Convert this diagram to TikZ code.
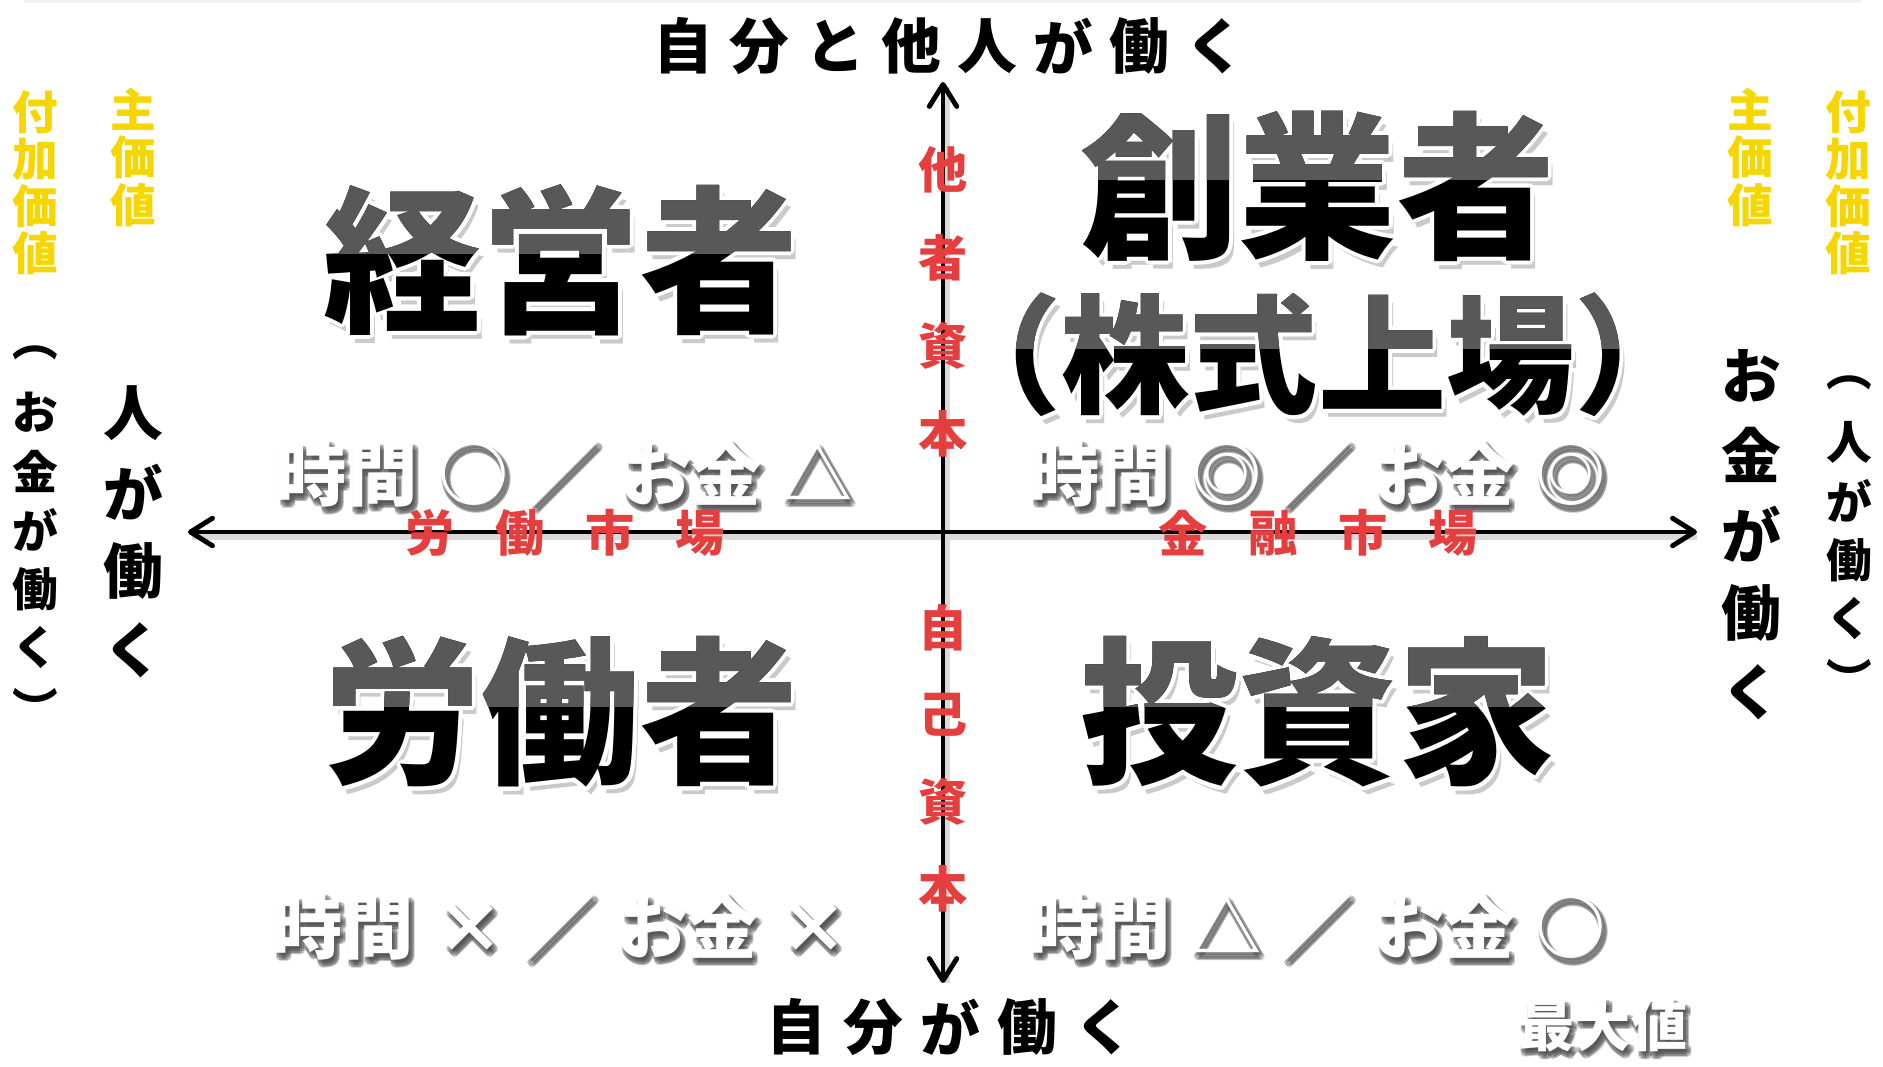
\documentclass[tikz,border=0pt]{standalone}
\usepackage{fontspec}
\setmainfont{Noto Sans CJK JP}
\usetikzlibrary{positioning}
\usetikzlibrary{arrows.meta}
\usetikzlibrary{calc}

\definecolor{glossgray}{RGB}{88,88,88}
\definecolor{marketred}{RGB}{228,62,62}
\definecolor{valuegold}{RGB}{246,214,0}

% time / money rating
\newcommand{\rating}[2]{時間\hspace{.3em}#1\hspace{.3em}／\hspace{.3em}お金\hspace{.3em}#2}

% glossy black headword: [size] name, x, y, text
\newcommand{\headword}[5][90]{%
  \node[headshadow=#1] at (#3+5,#4+8) {#5};
  \foreach \a in {0,30,...,330}
    \node[headrim=#1] at ($(#3,#4)+(\a:4)$) {#5};
  \node[head=#1] (#2) at (#3,#4) {#5};
  \begin{scope}
    \clip (#3-420,#4-110) rectangle (#3+420,#4-6);
    \node[head=#1, text=glossgray] at (#3,#4) {#5};
  \end{scope}}

% white word with soft grey shadow: style, name, x, y, text
\newcommand{\lightword}[5]{%
  \foreach \a in {0,45,...,315}
    \node[#1, text=black!70, opacity=.3] at ($(#3+3,#4+5)+(\a:3)$) {#5};
  \node[#1] (#2) at (#3,#4) {#5};}

\begin{document}
\begin{tikzpicture}[
  x=0.02cm, y=-0.02cm,
  head/.style={font=\bfseries\fontsize{#1}{#1}\selectfont, inner sep=0pt},
  headrim/.style={head=#1, text=white},
  headshadow/.style={head=#1, text=black!35, opacity=.6},
  axis/.style={line width=2.8pt, line cap=round,
    {Straight Barb[length=4.4mm,width=5.5mm,round]}-{Straight Barb[length=4.4mm,width=5.5mm,round]}},
  axisshadow/.style={line width=3.2pt, black!15},
  axislabel/.style={font=\bfseries\fontsize{34}{34}\selectfont, inner sep=0pt},
  sidelabel/.style={font=\bfseries\fontsize{26}{26}\selectfont, inner sep=0pt},
  valuelabel/.style={font=\bfseries\fontsize{26}{26}\selectfont, inner sep=0pt, text=valuegold},
  market/.style={font=\bfseries\fontsize{28}{28}\selectfont, inner sep=0pt, text=marketred},
  rate/.style={font=\bfseries\fontsize{40}{40}\selectfont, inner sep=0pt, text=white},
  maxword/.style={font=\bfseries\fontsize{32}{32}\selectfont, inner sep=0pt, text=white}
]
\useasboundingbox (0,0) rectangle (1883,1067);
\fill[black!6] (24,0) rectangle (1861,3);

% Axes
\coordinate (west) at (188,532);
\coordinate (east) at (1697,532);
\coordinate (north) at (943,82);
\coordinate (south) at (943,983);
\draw[axisshadow] ($(west)+(4,5)$) -- ($(east)+(0,5)$);
\draw[axisshadow] ($(north)+(4,5)$) -- ($(south)+(4,0)$);
\draw[axis] (west) -- (east);
\draw[axis] (north) -- (south);

% Axis labels
\foreach \c [count=\i from 0] in {自,分,と,他,人,が,働,く}
  \node[axislabel] (top\i) at (683+76*\i,46) {\c};
\foreach \c [count=\i from 0] in {自,分,が,働,く}
  \node[axislabel] (bottom\i) at (796+77*\i,1027) {\c};
\foreach \c [count=\i from 0] in {人,が,働,く}
  \node[axislabel] (left\i) at (133,413+79*\i) {\c};
\foreach \c [count=\i from 0] in {お,金,が,働,く}
  \node[axislabel] (right\i) at (1751,376+79*\i) {\c};

% Side notes
\foreach \c [count=\i from 0] in {︵,お,金,が,働,く,︶}
  \node[sidelabel] (farleft\i) at (35,353+59*\i) {\c};
\foreach \c [count=\i from 0] in {︵,人,が,働,く,︶}
  \node[sidelabel] (farright\i) at (1849,383+59*\i) {\c};

% Value notes
\foreach \c [count=\i from 0] in {付,加,価,値}
  \node[valuelabel] (addl\i) at (35,112+47*\i) {\c};
\foreach \c [count=\i from 0] in {主,価,値}
  \node[valuelabel] (mainl\i) at (133,109+48*\i) {\c};
\foreach \c [count=\i from 0] in {主,価,値}
  \node[valuelabel] (mainr\i) at (1750,109+48*\i) {\c};
\foreach \c [count=\i from 0] in {付,加,価,値}
  \node[valuelabel] (addr\i) at (1848,112+47*\i) {\c};

% Quadrant names
\headword{manager}{561}{260}{経営者}
\headword{founder}{1318}{186}{創業者}
\headword[73]{listing}{1318}{355}{（株式上場）}
\headword{worker}{561}{712}{労働者}
\headword{investor}{1318}{712}{投資家}

% Time / money ratings
\lightword{rate}{ratemanager}{565}{474}{\rating{○}{△}}
\lightword{rate}{ratefounder}{1318}{474}{\rating{◎}{◎}}
\lightword{rate}{rateworker}{561}{927}{\rating{×}{×}}
\lightword{rate}{rateinvestor}{1318}{927}{\rating{△}{○}}

% Markets and capital
\foreach \c [count=\i from 0] in {労,働,市,場}
  \node[market] (labour\i) at (430+90*\i,533) {\c};
\foreach \c [count=\i from 0] in {金,融,市,場}
  \node[market] (finance\i) at (1183+90*\i,533) {\c};
\foreach \c [count=\i from 0] in {他,者,資,本}
  \node[market] (debt\i) at (943,170+88*\i) {\c};
\foreach \c [count=\i from 0] in {自,己,資,本}
  \node[market] (equity\i) at (943,628+87*\i) {\c};

% Maximum
\lightword{maxword}{maximum}{1603}{1025}{最大値}

\end{tikzpicture}
\end{document}
